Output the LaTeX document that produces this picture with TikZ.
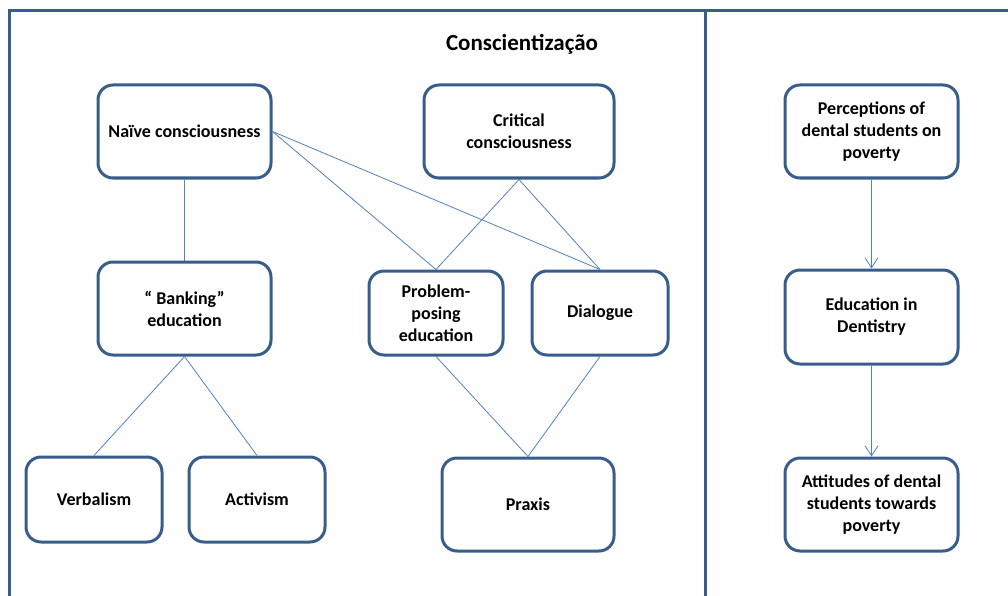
\documentclass[tikz,border=0pt]{standalone}
\usepackage{fontspec}
\setmainfont{Carlito}
\usetikzlibrary{arrows.meta}
\definecolor{frameblue}{RGB}{56,93,138}
\definecolor{lineblue}{RGB}{79,129,189}
\tikzset{
  box/.style={draw=frameblue, line width=3pt, rounded corners=15pt, fill=white,
    align=center, font=\fontsize{18}{22}\selectfont\bfseries, inner sep=0pt},
  link/.style={draw=lineblue, line width=0.8pt},
  flow/.style={link, -{Straight Barb[length=10pt,width=13pt]}},
}
\begin{document}
\begin{tikzpicture}[x=1pt,y=-1pt]
\useasboundingbox (0,0) rectangle (1008,596);
\begin{scope}
\clip (0,0) rectangle (1008,596);
\draw[frameblue, line width=3pt] (9,11) rectangle (1030,620);
\draw[frameblue, line width=3pt] (705,11) -- (705,620);
\end{scope}
\node[font=\fontsize{23}{26}\selectfont\bfseries] (title) at (522,44) {Conscientização};
% left panel
\node[box, minimum width=173pt, minimum height=93pt] (naive) at (184.5,131.5) {Naïve consciousness};
\node[box, minimum width=190pt, minimum height=93pt] (critical) at (519,131.5) {Critical\\consciousness};
\node[box, minimum width=173pt, minimum height=93pt] (banking) at (184.5,308.5) {“ Banking”\\education};
\node[box, minimum width=134pt, minimum height=84pt] (problem) at (436,313) {Problem-\\posing\\education};
\node[box, minimum width=136pt, minimum height=84pt] (dialogue) at (600,313) {Dialogue};
\node[box, minimum width=136pt, minimum height=85pt] (verbal) at (94,499.5) {Verbalism};
\node[box, minimum width=136pt, minimum height=85pt] (activ) at (257,499.5) {Activism};
\node[box, minimum width=172pt, minimum height=93pt] (praxis) at (528,504.5) {Praxis};
% right panel
\node[box, minimum width=173pt, minimum height=93pt] (percep) at (871.5,131.5) {Perceptions of\\dental students on\\poverty};
\node[box, minimum width=173pt, minimum height=94pt] (edu) at (871.5,317) {Education in\\Dentistry};
\node[box, minimum width=173pt, minimum height=93pt] (attit) at (871.5,504.5) {Attitudes of dental\\students towards\\poverty};
% connectors
\draw[link] (naive.south) -- (banking.north);
\draw[link] (naive.east) -- (problem.north);
\draw[link] (naive.east) -- (dialogue.north);
\draw[link] (critical.south) -- (problem.north);
\draw[link] (critical.south) -- (dialogue.north);
\draw[link] (banking.south) -- (verbal.north);
\draw[link] (banking.south) -- (activ.north);
\draw[link] (problem.south) -- (praxis.north);
\draw[link] (dialogue.south) -- (praxis.north);
\draw[flow] (percep.south) -- (edu.north);
\draw[flow] (edu.south) -- (attit.north);
\end{tikzpicture}
\end{document}
